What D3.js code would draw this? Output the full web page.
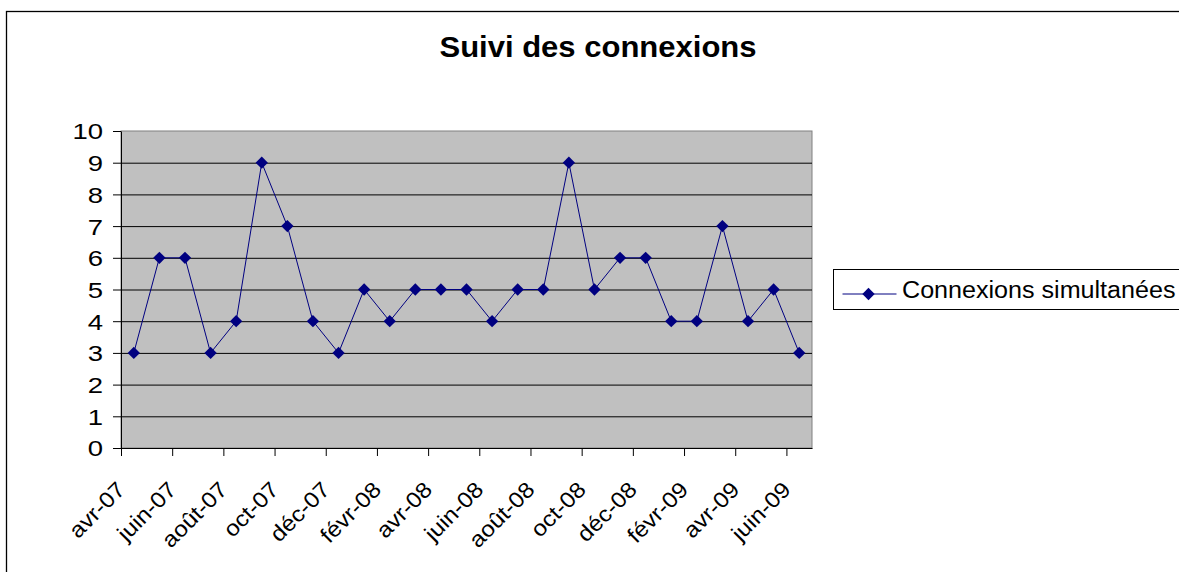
<!DOCTYPE html>
<html>
<head>
<meta charset="utf-8">
<script src="https://cdn.jsdelivr.net/npm/d3@7"></script>
<style>
  body { margin: 0; background: #fff; }
  svg { display: block; font-family: Arial, "Liberation Sans", sans-serif; }
</style>
</head>
<body>
<div id="chart"></div>
<script>
// months, one point per month
const months = ["avr-07", "mai-07", "juin-07", "juil-07", "août-07", "sept-07", "oct-07", "nov-07", "déc-07",
  "janv-08", "févr-08", "mars-08", "avr-08", "mai-08", "juin-08", "juil-08", "août-08", "sept-08", "oct-08",
  "nov-08", "déc-08", "janv-09", "févr-09", "mars-09", "avr-09", "mai-09", "juin-09"];
const connexions = [3, 6, 6, 3, 4, 9, 7, 4, 3, 5, 4, 5, 5, 5, 4, 5, 5, 9, 5, 6, 6, 4, 4, 7, 4, 5, 3];
const yTicks = [0, 1, 2, 3, 4, 5, 6, 7, 8, 9, 10];
const seriesName = "Connexions simultanées";
const title = "Suivi des connexions";

let W = 1179, H = 572,
  margin = { top: 131, left: 121, right: 367, bottom: 124 },
  width = W - margin.left - margin.right,
  height = H - margin.top - margin.bottom,
  navy = "#000080";

let svg = d3.select("#chart")
  .append("svg")
  .attr("width", W)
  .attr("height", H);

// outer chart frame (runs off the picture on right/bottom)
svg.append("rect")
  .attr("x", 6.5).attr("y", 11.5)
  .attr("width", 1300).attr("height", 700)
  .attr("fill", "#fff")
  .attr("stroke", "#000")
  .attr("stroke-width", 1.3);

svg.append("text")
  .attr("transform", "translate(598,57) scale(1.07,1)")
  .attr("text-anchor", "middle")
  .style("font-size", "29px")
  .style("font-weight", "bold")
  .text(title);

let g = svg.append("g")
  .attr("transform", "translate(" + margin.left + "," + margin.top + ")");

let xScale = d3.scaleLinear()
  .domain([0, months.length])
  .range([0, width]);

let yScale = d3.scaleLinear()
  .domain([0, 10])
  .range([height, 0]);

g.append("rect")
  .attr("width", width)
  .attr("height", height)
  .attr("fill", "#c0c0c0")
  .attr("stroke", "#808080");

// gridlines
g.selectAll(".grid")
  .data(yTicks.slice(1, -1))
  .enter().append("line")
  .attr("class", "grid")
  .attr("x1", 0).attr("x2", width)
  .attr("y1", d => yScale(d) + 0.5).attr("y2", d => yScale(d) + 0.5)
  .attr("stroke", "#000")
  .attr("stroke-width", 1);

let yAxis = g.append("g")
  .call(d3.axisLeft(yScale).tickValues(yTicks).tickSize(8).tickSizeOuter(0));

// tick fonts in the original are drawn wide, hence the x stretch
yAxis.selectAll("text")
  .attr("x", 0)
  .attr("dy", "0.36em")
  .attr("transform", "translate(-18,0) scale(1.25,1)")
  .style("font-size", "22px")
  .attr("fill", "#000");

let xAxis = g.append("g")
  .attr("transform", "translate(0," + height + ")")
  .call(d3.axisBottom(xScale)
    .tickValues(d3.range(0, months.length, 2))
    .tickFormat(i => months[i])
    .tickSize(8)
    .tickSizeOuter(0));

xAxis.selectAll("text")
  .attr("x", 0).attr("y", 0).attr("dy", 0)
  .attr("text-anchor", "end")
  .attr("transform", "translate(5,43) rotate(-45) scale(1.1,1)")
  .style("font-size", "22px")
  .attr("fill", "#000");

svg.selectAll(".domain, .tick line").attr("stroke", "#000");

let line = d3.line()
  .x((d, i) => xScale(i + 0.5))
  .y(d => yScale(d));

g.append("path")
  .datum(connexions)
  .attr("d", line)
  .attr("fill", "none")
  .attr("stroke", navy)
  .attr("stroke-width", 1);

let marker = d3.symbol().type(d3.symbolSquare).size(76);

g.selectAll(".pt")
  .data(connexions)
  .enter().append("path")
  .attr("class", "pt")
  .attr("d", marker)
  .attr("transform", (d, i) => "translate(" + xScale(i + 0.5) + "," + yScale(d) + ") rotate(45)")
  .attr("fill", navy);

// legend
let legend = svg.append("g")
  .attr("transform", "translate(833.5,269.5)");

legend.append("rect")
  .attr("width", 400).attr("height", 40)
  .attr("fill", "#fff")
  .attr("stroke", "#000");

legend.append("line")
  .attr("x1", 9).attr("x2", 63)
  .attr("y1", 24.5).attr("y2", 24.5)
  .attr("stroke", navy);

legend.append("path")
  .attr("d", marker)
  .attr("transform", "translate(35,24.5) rotate(45)")
  .attr("fill", navy);

legend.append("text")
  .attr("transform", "translate(68.5,28.5) scale(1.025,1)")
  .style("font-size", "24.5px")
  .text(seriesName);
</script>
</body>
</html>
